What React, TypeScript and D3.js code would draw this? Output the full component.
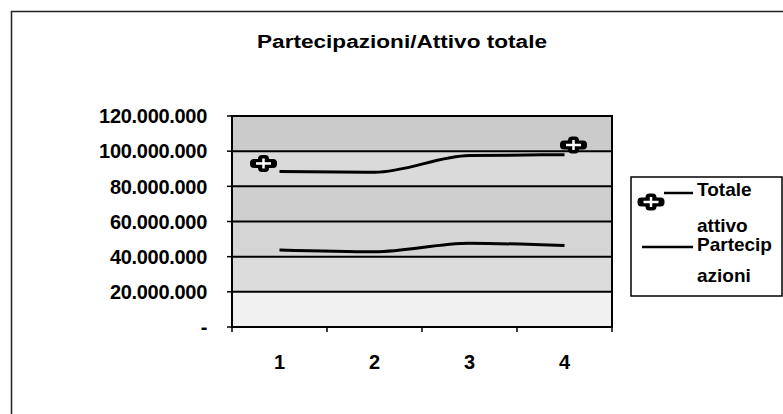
import React from "react";
import * as d3 from "d3";

const categories = ["1", "2", "3", "4"];
const totaleAttivo = [88.5e6, 88e6, 97.5e6, 98e6];
const partecipazioni = [43.8e6, 42.8e6, 47.6e6, 46.3e6];
const totaleMarkers = [93e6, null, null, 103.5e6];
const yTicks = [0, 20e6, 40e6, 60e6, 80e6, 100e6, 120e6];
const yTickLabels = ["-", "20.000.000", "40.000.000", "60.000.000", "80.000.000", "100.000.000", "120.000.000"];
const seriesNames = ["Totale attivo", "Partecipazioni"];
const legendLines = [["Totale", "attivo"], ["Partecip", "azioni"]];
const title = "Partecipazioni/Attivo totale";

// style constants
const bandFills = ["#f1f1f1", "#dcdcdc", "#d5d5d5", "#cfcfcf", "#dadada", "#cbcbcb"];
const markerDx = [-16, 0, 0, 9];
const legendTextY = [189, 225, 244, 275];
const FONT = "'Liberation Sans', Arial, sans-serif";

const W = 783;
const H = 414;
const plot = { left: 232, right: 612, top: 116, bottom: 327 };

function PlusMarker({ x, y }: { x: number; y: number }) {
  return (
    <g transform={`translate(${x},${y})`}>
      <rect x={-13.5} y={-4.5} width={27} height={9} rx={4} fill="#000" />
      <rect x={-5.5} y={-8.5} width={11} height={17} rx={4} fill="#000" />
      <line x1={-7.5} x2={7.5} y1={0} y2={0} stroke="#fff" strokeWidth={2.5} />
      <line x1={0} x2={0} y1={-5} y2={5} stroke="#fff" strokeWidth={2.5} />
    </g>
  );
}

export default function App() {
  const x = d3.scaleBand<string>().domain(categories).range([plot.left, plot.right]);
  const y = d3.scaleLinear().domain([0, 120e6]).range([plot.bottom, plot.top]);
  const cx = (c: string) => (x(c) as number) + x.bandwidth() / 2;

  const line = d3
    .line<number>()
    .x((_, i) => cx(categories[i]))
    .y((d) => y(d))
    .curve(d3.curveMonotoneX);

  const bands = yTicks.slice(0, -1).map((v, i) => ({ lo: v, hi: yTicks[i + 1], fill: bandFills[i] }));

  return (
    <svg
      width={W}
      height={H}
      style={{ position: "absolute", left: 0, top: 0, background: "#fff" }}
      fontFamily={FONT}
    >
      <rect x={0} y={0} width={W} height={H} fill="#fff" />
      {/* outer chart border */}
      <path d={`M11.5,${H} V11.5 H${W}`} fill="none" stroke="#222" strokeWidth={1.5} />

      {/* title */}
      <text
        x={402}
        y={48}
        textAnchor="middle"
        fontSize={18}
        fontWeight="bold"
        textLength={290}
        lengthAdjust="spacingAndGlyphs"
      >
        {title}
      </text>

      {/* plot bands */}
      {bands.map((b, i) => (
        <rect key={i} x={plot.left} y={y(b.hi)} width={plot.right - plot.left} height={y(b.lo) - y(b.hi)} fill={b.fill} />
      ))}

      {/* gridlines */}
      {yTicks.map((t, i) => (
        <line key={i} x1={plot.left} x2={plot.right} y1={y(t)} y2={y(t)} stroke="#000" strokeWidth={2} />
      ))}
      <rect
        x={plot.left}
        y={plot.top}
        width={plot.right - plot.left}
        height={plot.bottom - plot.top}
        fill="none"
        stroke="#000"
        strokeWidth={2}
      />

      {/* y ticks + labels */}
      {yTicks.map((t, i) => (
        <g key={i}>
          <line x1={plot.left - 5} x2={plot.left} y1={y(t)} y2={y(t)} stroke="#000" strokeWidth={1.5} />
          <text
            x={207}
            y={y(t)}
            dy="0.36em"
            textAnchor="end"
            fontSize={20}
            fontWeight="bold"
            letterSpacing={-0.3}
          >
            {yTickLabels[i]}
          </text>
        </g>
      ))}

      {/* x ticks + labels */}
      {categories.concat([""]).map((c, i) => {
        const xx = plot.left + i * x.step();
        return <line key={"t" + i} x1={xx} x2={xx} y1={plot.bottom} y2={plot.bottom + 5} stroke="#000" strokeWidth={1.5} />;
      })}
      {categories.map((c) => (
        <text key={c} x={cx(c)} y={362} dy="0.36em" textAnchor="middle" fontSize={20} fontWeight="bold">
          {c}
        </text>
      ))}

      {/* series lines */}
      <path d={line(totaleAttivo) as string} fill="none" stroke="#000" strokeWidth={3} />
      <path d={line(partecipazioni) as string} fill="none" stroke="#000" strokeWidth={3} />
      {totaleMarkers.map((v, i) =>
        v == null ? null : <PlusMarker key={i} x={cx(categories[i]) + markerDx[i]} y={y(v)} />
      )}

      {/* legend */}
      <rect x={631} y={177} width={151} height={119} fill="#fff" stroke="#000" strokeWidth={1.5} />
      <line x1={664} x2={693} y1={193} y2={193} stroke="#000" strokeWidth={2.5} />
      <PlusMarker x={651} y={202} />
      <line x1={642} x2={693} y1={247} y2={247} stroke="#000" strokeWidth={2.5} />
      {legendLines.map((lines, si) =>
        lines.map((l, li) => (
          <text
            key={si + "-" + li}
            x={697}
            y={legendTextY[si * 2 + li]}
            dy="0.36em"
            fontSize={19}
            fontWeight="bold"
            aria-label={seriesNames[si]}
          >
            {l}
          </text>
        ))
      )}
    </svg>
  );
}
